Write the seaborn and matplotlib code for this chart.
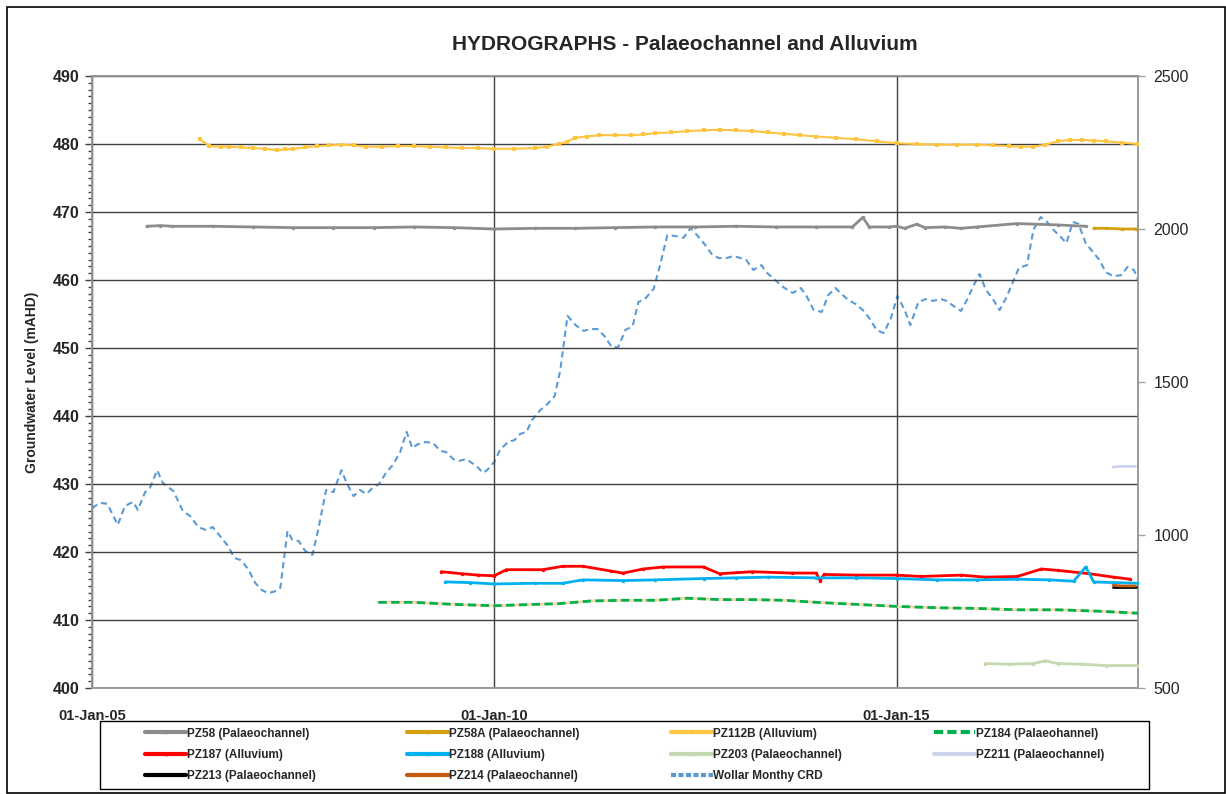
import numpy as np
import pandas as pd
import matplotlib
matplotlib.use("Agg")
import matplotlib.pyplot as plt
import seaborn as sns
from matplotlib.lines import Line2D
from matplotlib.patches import Rectangle
from matplotlib.ticker import MultipleLocator, FixedLocator

sns.set_theme(style="white")
plt.rcParams['font.family'] = ['Liberation Sans', 'DejaVu Sans']

# ---------------- data (decimal years, values) ----------------
pz58_t = [2005.68, 2005.85, 2006.0, 2006.5, 2007.0, 2007.5, 2008.0, 2008.5, 2009.0, 2009.5, 2010.0,
          2010.5, 2011.0, 2011.5, 2012.0, 2012.5, 2013.0, 2013.5, 2014.0, 2014.45, 2014.58, 2014.66,
          2014.9, 2015.0, 2015.1, 2015.25, 2015.35, 2015.6, 2015.8, 2016.0, 2016.5, 2017.0, 2017.35]
pz58_v = [467.9, 468.0, 467.9, 467.9, 467.8, 467.7, 467.7, 467.7, 467.8, 467.7, 467.5,
          467.6, 467.6, 467.7, 467.8, 467.8, 467.9, 467.8, 467.8, 467.8, 469.2, 467.8,
          467.8, 467.9, 467.6, 468.2, 467.7, 467.8, 467.6, 467.8, 468.3, 468.1, 467.9]

pz58a_t = [2017.45, 2017.6, 2017.8, 2017.97]
pz58a_v = [467.6, 467.6, 467.5, 467.5]

pz112b_t = [2006.34, 2006.46, 2006.6, 2006.7, 2006.85, 2007.0, 2007.15, 2007.3, 2007.4, 2007.5,
            2007.65, 2007.8, 2007.95, 2008.1, 2008.25, 2008.4, 2008.6, 2008.8, 2009.0, 2009.2,
            2009.4, 2009.6, 2009.8, 2010.0, 2010.25, 2010.5, 2010.65, 2010.8, 2010.9, 2011.0,
            2011.15, 2011.3, 2011.5, 2011.7, 2011.85, 2012.0, 2012.2, 2012.4, 2012.6, 2012.8,
            2013.0, 2013.2, 2013.4, 2013.6, 2013.8, 2014.0, 2014.25, 2014.5, 2014.75, 2015.0,
            2015.25, 2015.5, 2015.75, 2016.0, 2016.2, 2016.4, 2016.55, 2016.7, 2016.85, 2017.0,
            2017.15, 2017.3, 2017.45, 2017.6, 2017.8, 2018.0]
pz112b_v = [480.7, 479.7, 479.6, 479.6, 479.5, 479.4, 479.3, 479.1, 479.2, 479.3,
            479.5, 479.7, 479.8, 479.9, 479.8, 479.6, 479.6, 479.7, 479.7, 479.6,
            479.5, 479.4, 479.4, 479.3, 479.3, 479.4, 479.6, 480.0, 480.3, 480.9,
            481.1, 481.3, 481.3, 481.3, 481.4, 481.6, 481.7, 481.9, 482.0, 482.1,
            482.0, 481.9, 481.7, 481.5, 481.3, 481.1, 480.9, 480.7, 480.4, 480.1,
            480.0, 479.9, 479.9, 479.9, 479.8, 479.7, 479.6, 479.6, 479.9, 480.4,
            480.6, 480.6, 480.5, 480.4, 480.2, 480.0]

pz184_t = [2008.56, 2009.0, 2009.5, 2010.0, 2010.5, 2010.8, 2011.2, 2011.6, 2012.0, 2012.4, 2012.8,
           2013.2, 2013.6, 2014.0, 2014.5, 2015.0, 2015.5, 2016.0, 2016.5, 2017.0, 2017.5, 2018.0]
pz184_v = [412.6, 412.6, 412.3, 412.1, 412.3, 412.4, 412.8, 412.9, 412.9, 413.2, 413.0,
           413.0, 412.9, 412.6, 412.3, 412.0, 411.8, 411.7, 411.5, 411.5, 411.3, 411.0]

pz187_t = [2009.34, 2009.6, 2009.8, 2010.0, 2010.15, 2010.6, 2010.85, 2011.1, 2011.45, 2011.6, 2011.85,
           2012.1, 2012.6, 2012.8, 2013.2, 2013.7, 2014.0, 2014.05, 2014.1, 2014.5, 2015.0, 2015.3,
           2015.8, 2016.1, 2016.5, 2016.8, 2017.0, 2017.4, 2017.7, 2017.9]
pz187_v = [417.1, 416.8, 416.6, 416.5, 417.4, 417.4, 417.9, 417.9, 417.2, 416.9, 417.5,
           417.8, 417.8, 416.8, 417.1, 416.9, 416.9, 415.8, 416.7, 416.6, 416.6, 416.4,
           416.6, 416.3, 416.4, 417.5, 417.3, 416.8, 416.3, 416.0]

pz188_t = [2009.39, 2009.7, 2010.0, 2010.5, 2010.85, 2011.1, 2011.6, 2012.0, 2012.6, 2013.0, 2013.4,
           2014.0, 2014.5, 2015.0, 2015.5, 2016.0, 2016.5, 2016.9, 2017.2, 2017.35, 2017.45, 2017.7, 2018.0]
pz188_v = [415.6, 415.5, 415.3, 415.4, 415.4, 415.9, 415.8, 415.9, 416.1, 416.2, 416.3,
           416.2, 416.2, 416.1, 415.9, 415.9, 416.0, 415.9, 415.7, 417.8, 415.6, 415.5, 415.4]

pz203_t = [2016.1, 2016.4, 2016.7, 2016.85, 2017.0, 2017.3, 2017.6, 2018.0]
pz203_v = [403.6, 403.5, 403.6, 404.0, 403.6, 403.5, 403.3, 403.3]

pz211_t = [2017.69, 2017.8, 2017.97]
pz211_v = [432.5, 432.6, 432.6]

pz213_t = [2017.69, 2017.8, 2017.97]
pz213_v = [414.9, 414.9, 414.9]

pz214_t = [2017.69, 2017.8, 2017.97]
pz214_v = [415.1, 415.0, 415.0]

crd_t = [2005.00, 2005.10, 2005.19, 2005.32, 2005.41, 2005.51, 2005.57, 2005.66, 2005.72, 2005.81,
         2005.88, 2006.01, 2006.13, 2006.22, 2006.32, 2006.42, 2006.50, 2006.59, 2006.69, 2006.77,
         2006.85, 2006.94, 2007.03, 2007.11, 2007.19, 2007.29, 2007.34, 2007.43, 2007.49, 2007.57,
         2007.65, 2007.74, 2007.81, 2007.91, 2008.00, 2008.10, 2008.16, 2008.25, 2008.33, 2008.41,
         2008.50, 2008.57, 2008.66, 2008.74, 2008.83, 2008.91, 2008.98, 2009.05, 2009.15, 2009.24,
         2009.33, 2009.40, 2009.49, 2009.56, 2009.65, 2009.70, 2009.78, 2009.86, 2009.91, 2010.00,
         2010.07, 2010.17, 2010.25, 2010.32, 2010.40, 2010.47, 2010.57, 2010.65, 2010.75, 2010.82,
         2010.91, 2011.01, 2011.11, 2011.19, 2011.28, 2011.37, 2011.46, 2011.54, 2011.63, 2011.72,
         2011.79, 2011.88, 2011.98, 2012.06, 2012.15, 2012.25, 2012.35, 2012.44, 2012.54, 2012.62,
         2012.71, 2012.79, 2012.89, 2012.97, 2013.06, 2013.13, 2013.22, 2013.32, 2013.38, 2013.49,
         2013.59, 2013.71, 2013.81, 2013.88, 2013.97, 2014.07, 2014.15, 2014.24, 2014.33, 2014.40,
         2014.49, 2014.58, 2014.66, 2014.75, 2014.84, 2014.93, 2015.01, 2015.10, 2015.17, 2015.27,
         2015.36, 2015.45, 2015.55, 2015.62, 2015.71, 2015.80, 2015.88, 2015.96, 2016.03, 2016.11,
         2016.19, 2016.28, 2016.36, 2016.44, 2016.52, 2016.62, 2016.70, 2016.79, 2016.87, 2016.95,
         2017.04, 2017.11, 2017.19, 2017.26, 2017.35, 2017.44, 2017.52, 2017.60, 2017.69, 2017.79,
         2017.87, 2017.95, 2018.00]
crd_v = [1088, 1105, 1102, 1033, 1095, 1108, 1082, 1140, 1154, 1212,
         1170, 1144, 1078, 1062, 1026, 1016, 1026, 997, 964, 925,
         918, 889, 843, 820, 810, 817, 827, 1013, 984, 980,
         948, 935, 1016, 1147, 1140, 1212, 1173, 1127, 1147, 1134,
         1157, 1167, 1206, 1229, 1271, 1337, 1284, 1297, 1304, 1300,
         1275, 1271, 1248, 1242, 1248, 1239, 1225, 1203, 1212, 1239,
         1278, 1304, 1310, 1330, 1337, 1376, 1408, 1425, 1454, 1539,
         1716, 1686, 1667, 1673, 1673, 1650, 1614, 1614, 1670, 1683,
         1761, 1774, 1804, 1882, 1980, 1977, 1971, 2003, 1974, 1948,
         1915, 1905, 1905, 1912, 1905, 1899, 1866, 1882, 1859, 1833,
         1810, 1791, 1807, 1781, 1735, 1729, 1784, 1807, 1784, 1768,
         1755, 1735, 1709, 1670, 1660, 1709, 1781, 1735, 1686, 1761,
         1771, 1765, 1771, 1765, 1748, 1732, 1771, 1817, 1853, 1801,
         1774, 1735, 1774, 1823, 1873, 1882, 1997, 2039, 2023, 1997,
         1974, 1954, 2023, 2017, 1954, 1925, 1899, 1859, 1846, 1849,
         1876, 1866, 1833]

x_tick_years = [2005, 2010, 2015]
x_tick_labels = ["01-Jan-05", "01-Jan-10", "01-Jan-15"]

# ---------------- figure ----------------
W, H = 1226, 794
fig = plt.figure(figsize=(W / 100, H / 100), dpi=100)
fig.patch.set_facecolor("white")
fig.add_artist(Rectangle((7 / W, 1 - 793 / H), (1225 - 7) / W, (793 - 7) / H,
                         transform=fig.transFigure, fill=False, edgecolor="black", lw=1.2))

ax = fig.add_axes([92 / W, 1 - 688 / H, (1138 - 92) / W, (688 - 76) / H])
ax2 = ax.twinx()

series = [
    ("PZ58 (Palaeochannel)", pz58_t, pz58_v, "#8c8c8c", "-", 2.0, "o"),
    ("PZ58A (Palaeochannel)", pz58a_t, pz58a_v, "#d4a010", "-", 2.0, "o"),
    ("PZ112B (Alluvium)", pz112b_t, pz112b_v, "#ffc440", "-", 1.5, "s"),
    ("PZ184 (Palaeohannel)", pz184_t, pz184_v, "#00b050", (0, (3, 1.6)), 2.0, None),
    ("PZ187 (Alluvium)", pz187_t, pz187_v, "#ff0000", "-", 2.0, "o"),
    ("PZ188 (Alluvium)", pz188_t, pz188_v, "#00b0f0", "-", 2.0, "o"),
    ("PZ203 (Palaeochannel)", pz203_t, pz203_v, "#c4d9b0", "-", 2.0, "o"),
    ("PZ211 (Palaeochannel)", pz211_t, pz211_v, "#ccd3ec", "-", 2.0, None),
    ("PZ213 (Palaeochannel)", pz213_t, pz213_v, "#000000", "-", 2.0, None),
    ("PZ214 (Palaeochannel)", pz214_t, pz214_v, "#c55a11", "-", 2.0, None),
]

# pale underlay for PZ184 dashed line
sns.lineplot(x=pz184_t, y=pz184_v, ax=ax, color="#f5d9a5", lw=2.0, legend=False, zorder=2)

handles = {}
for name, t, v, c, ls, lw, mk in series:
    sns.lineplot(x=t, y=v, ax=ax, color=c, lw=lw, linestyle=ls, legend=False, zorder=3,
                 marker=mk, markersize=2.5, markeredgewidth=0)
    hls = (0, (2.2, 1.0)) if not isinstance(ls, str) else ls
    handles[name] = Line2D([0], [0], color=c, lw=3, linestyle=hls,
                           marker="|" if mk else None, markersize=3)

sns.lineplot(x=crd_t, y=crd_v, ax=ax2, color="#5b9bd5", lw=1.5, linestyle=(0, (3, 2)),
             legend=False, zorder=3)
handles["Wollar Monthy CRD"] = Line2D([0], [0], color="#5b9bd5", lw=3, linestyle=(0, (1.2, 0.6)))

# axes formatting
ax.set_xlim(2005, 2018)
ax.set_ylim(400, 490)
ax2.set_ylim(500, 2500)
ax.set_zorder(ax2.get_zorder() + 1)
ax.patch.set_visible(False)

ax.xaxis.set_major_locator(FixedLocator(x_tick_years))
ax.set_xticklabels(x_tick_labels, fontsize=10.5, fontweight="bold")
ax.xaxis.set_minor_locator(MultipleLocator(1))
ax.yaxis.set_major_locator(MultipleLocator(10))
ax.yaxis.set_minor_locator(MultipleLocator(1))
for lab in ax.get_yticklabels():
    lab.set_fontsize(11.5)
    lab.set_fontweight("bold")
ax.tick_params(axis="x", which="major", length=5, width=1, color="#404040", direction="out", pad=10)
ax.tick_params(axis="x", which="minor", length=5, width=1, color="#404040", direction="out")
ax.tick_params(axis="y", which="major", length=5, width=1, color="#404040", direction="out", pad=4)
ax.tick_params(axis="y", which="minor", length=3, width=1, color="#404040", direction="out")
ax.grid(True, which="major", color="#404040", lw=1.0)
ax.set_axisbelow(True)

ax2.yaxis.set_major_locator(MultipleLocator(500))
ax2.tick_params(axis="y", length=5, width=1, color="#a0a0a0", direction="out", labelsize=11.5, pad=6)

for a in (ax, ax2):
    for s in a.spines.values():
        s.set_color("#9a9a9a")
        s.set_linewidth(1.2)
        s.set_visible(True)

ax.set_ylabel("Groundwater Level (mAHD)", fontsize=10, fontweight="bold")
ax.yaxis.set_label_coords(-0.051, 0.5)

fig.text(685 / W, 1 - 44 / H, "HYDROGRAPHS - Palaeochannel and Alluvium",
         ha="center", va="center", fontsize=15, fontweight="bold")

# legend frame + legend content
fig.add_artist(Rectangle((100 / W, 1 - 789 / H), (1149 - 100) / W, (789 - 721) / H,
                         transform=fig.transFigure, fill=False, edgecolor="black", lw=1.0))
order = ["PZ58 (Palaeochannel)", "PZ187 (Alluvium)", "PZ213 (Palaeochannel)",
         "PZ58A (Palaeochannel)", "PZ188 (Alluvium)", "PZ214 (Palaeochannel)",
         "PZ112B (Alluvium)", "PZ203 (Palaeochannel)", "Wollar Monthy CRD",
         "PZ184 (Palaeohannel)", "PZ211 (Palaeochannel)"]
leg = fig.legend([handles[k] for k in order], order, loc="center",
                 bbox_to_anchor=(145 / W, 1 - 789 / H, (1104 - 145) / W, (789 - 721) / H),
                 mode="expand", ncol=4, frameon=False,
                 prop={"weight": "bold", "size": 8.5}, handlelength=3.5, handletextpad=0.05,
                 borderaxespad=0, labelspacing=0.8, borderpad=0.0)

fig.savefig("out.png", dpi=100)
